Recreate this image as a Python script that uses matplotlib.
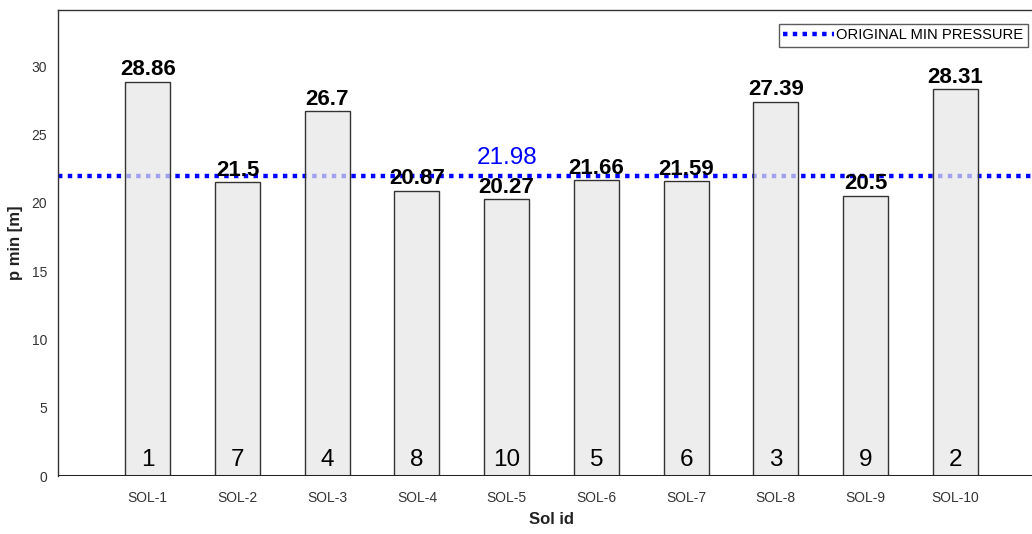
import numpy as np
import matplotlib.pyplot as plt

plt.rcParams['font.family'] = ['Liberation Sans', 'DejaVu Sans']

# data
sol_ids = ["SOL-1", "SOL-2", "SOL-3", "SOL-4", "SOL-5",
           "SOL-6", "SOL-7", "SOL-8", "SOL-9", "SOL-10"]
p_min = [28.86, 21.5, 26.7, 20.87, 20.27, 21.66, 21.59, 27.39, 20.5, 28.31]
ranks = [1, 7, 4, 8, 10, 5, 6, 3, 9, 2]
original_min = 21.98

x = np.arange(1, len(sol_ids) + 1)

fig = plt.figure(figsize=(10.32, 5.34), dpi=100)
W, H = 1032, 534
ax = fig.add_axes([58 / W, 1 - 476 / H, (1045 - 58) / W, (476 - 10) / H])

line = ax.axhline(original_min, color="blue", lw=3.2, ls=(0, (1, 1.2)),
                  zorder=1, label="ORIGINAL MIN PRESSURE")
ax.bar(x, p_min, width=0.5, color=(0.9, 0.9, 0.9), alpha=0.7,
       edgecolor="none", zorder=2)
ax.bar(x, p_min, width=0.5, facecolor="none", edgecolor="#333333",
       lw=1.0, zorder=3)
ax.axhline(0, color="#222222", lw=2.2, zorder=4)

for xi, v, r in zip(x, p_min, ranks):
    ax.text(xi, v + 0.1, f"{v:g}", ha="center", va="bottom",
            fontsize=16, fontweight="bold", zorder=5)
    ax.text(xi, 0.35, str(r), ha="center", va="bottom", fontsize=17.5, zorder=5)

ax.text(5, original_min + 0.45, f"{original_min:g}", color="blue",
        ha="center", va="bottom", fontsize=17.5, zorder=5)

ax.set_xlim(0, 11)
ax.set_ylim(0, 34.1)
ax.set_xticks(x)
ax.set_xticklabels(sol_ids)
ax.set_yticks(np.arange(0, 31, 5))
ax.tick_params(axis="both", direction="in", length=0, labelsize=10,
               labelcolor="#333333", pad=8)
ax.tick_params(axis="x", pad=11)
for s in ["left", "top", "right"]:
    ax.spines[s].set_color("#333333")
    ax.spines[s].set_linewidth(1.0)
ax.spines["bottom"].set_visible(False)

ax.set_ylabel("p min [m]", fontsize=12, fontweight="bold", color="#222222",
              labelpad=6)
ax.set_xlabel("Sol id", fontsize=12, fontweight="bold", color="#222222",
              labelpad=5)

leg = fig.legend(handles=[line], loc="upper right",
                 bbox_to_anchor=(1028 / W, 1 - 24 / H), fontsize=10.6,
                 frameon=True, fancybox=False, edgecolor="#333333",
                 handlelength=3.4, handletextpad=0.2, borderpad=0.3,
                 borderaxespad=0)
leg.get_frame().set_linewidth(1.0)

fig.savefig("out.png", dpi=100)
